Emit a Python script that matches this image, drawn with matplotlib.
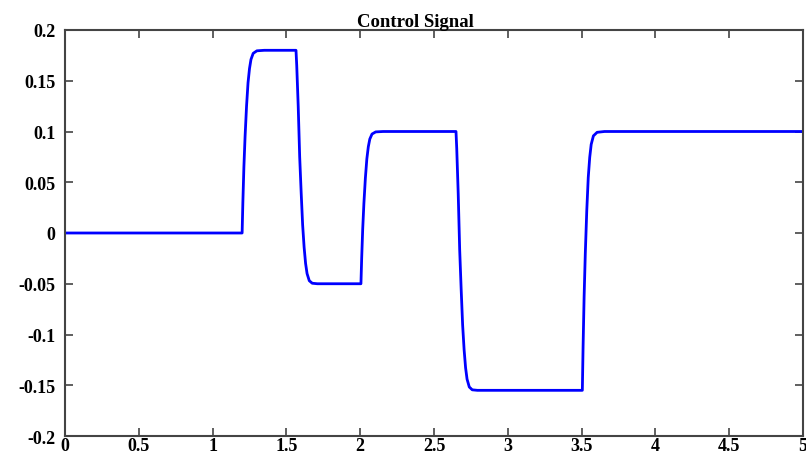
import numpy as np
import matplotlib
matplotlib.use("Agg")
import matplotlib.pyplot as plt

# control signal
t_flat0 = [0.0, 1.2]
u_flat0 = [0.0, 0.0]

t_rise1 = [1.205, 1.212, 1.22, 1.23, 1.24, 1.25, 1.26, 1.275, 1.30, 1.35]
u_rise1 = [0.03, 0.065, 0.095, 0.125, 0.148, 0.162, 0.171, 0.177, 0.1795, 0.18]

t_fall1 = [1.565, 1.57, 1.58, 1.59, 1.60, 1.61, 1.62, 1.63, 1.64, 1.655, 1.675, 1.71]
u_fall1 = [0.18, 0.165, 0.125, 0.075, 0.04, 0.008, -0.014, -0.03, -0.04, -0.047, -0.0495, -0.05]

t_rise2 = [2.005, 2.01, 2.017, 2.025, 2.035, 2.045, 2.055, 2.065, 2.08, 2.105, 2.155]
u_rise2 = [-0.05, -0.025, 0.004, 0.029, 0.054, 0.073, 0.085, 0.0925, 0.0975, 0.0996, 0.1]

t_fall2 = [2.649, 2.654, 2.664, 2.674, 2.684, 2.694, 2.704, 2.714, 2.724, 2.739, 2.759, 2.794]
u_fall2 = [0.1, 0.0834, 0.039, -0.0165, -0.0553, -0.0907, -0.115, -0.1328, -0.144, -0.1517, -0.1545, -0.155]

t_rise3 = [3.505, 3.51, 3.517, 3.525, 3.535, 3.545, 3.555, 3.565, 3.58, 3.605, 3.655, 5.0]
u_rise3 = [-0.155, -0.1124, -0.063, -0.0204, 0.022, 0.0546, 0.0745, 0.0873, 0.0957, 0.0992, 0.1, 0.1]

t = t_flat0 + t_rise1 + t_fall1 + t_rise2 + t_fall2 + t_rise3
u = u_flat0 + u_rise1 + u_fall1 + u_rise2 + u_fall2 + u_rise3

xticks = [0, 0.5, 1, 1.5, 2, 2.5, 3, 3.5, 4, 4.5, 5]
xlabels = ["0", "0.5", "1", "1.5", "2", "2.5", "3", "3.5", "4", "4.5", "5"]
yticks = [-0.2, -0.15, -0.1, -0.05, 0, 0.05, 0.1, 0.15, 0.2]
ylabels = ["-0.2", "-0.15", "-0.1", "-0.05", "0", "0.05", "0.1", "0.15", "0.2"]

plt.rcParams["font.family"] = ["Liberation Serif", "DejaVu Serif"]
plt.rcParams["font.weight"] = "bold"

fig = plt.figure(figsize=(8.06, 4.64), dpi=100)
ax = fig.add_axes([65 / 806, 27 / 464, 738 / 806, 406 / 464])

ax.plot(t, u, color="#0000ff", lw=2.0)

ax.set_xlim(0, 5)
ax.set_ylim(-0.2, 0.2)
ax.set_xticks(xticks)
ax.set_xticklabels(xlabels)
ax.set_yticks(yticks)
ax.set_yticklabels(ylabels)
ax.tick_params(direction="in", length=6, width=1.2, color="#444444",
               top=True, right=True, labelsize=13, pad=1)
ax.tick_params(axis="y", pad=7)
for s in ax.spines.values():
    s.set_color("#444444")
    s.set_linewidth(1.5)

ax.set_title("Control Signal", fontsize=13.5, fontweight="bold", pad=3, x=0.475)

fig.savefig("out.png", dpi=100)
